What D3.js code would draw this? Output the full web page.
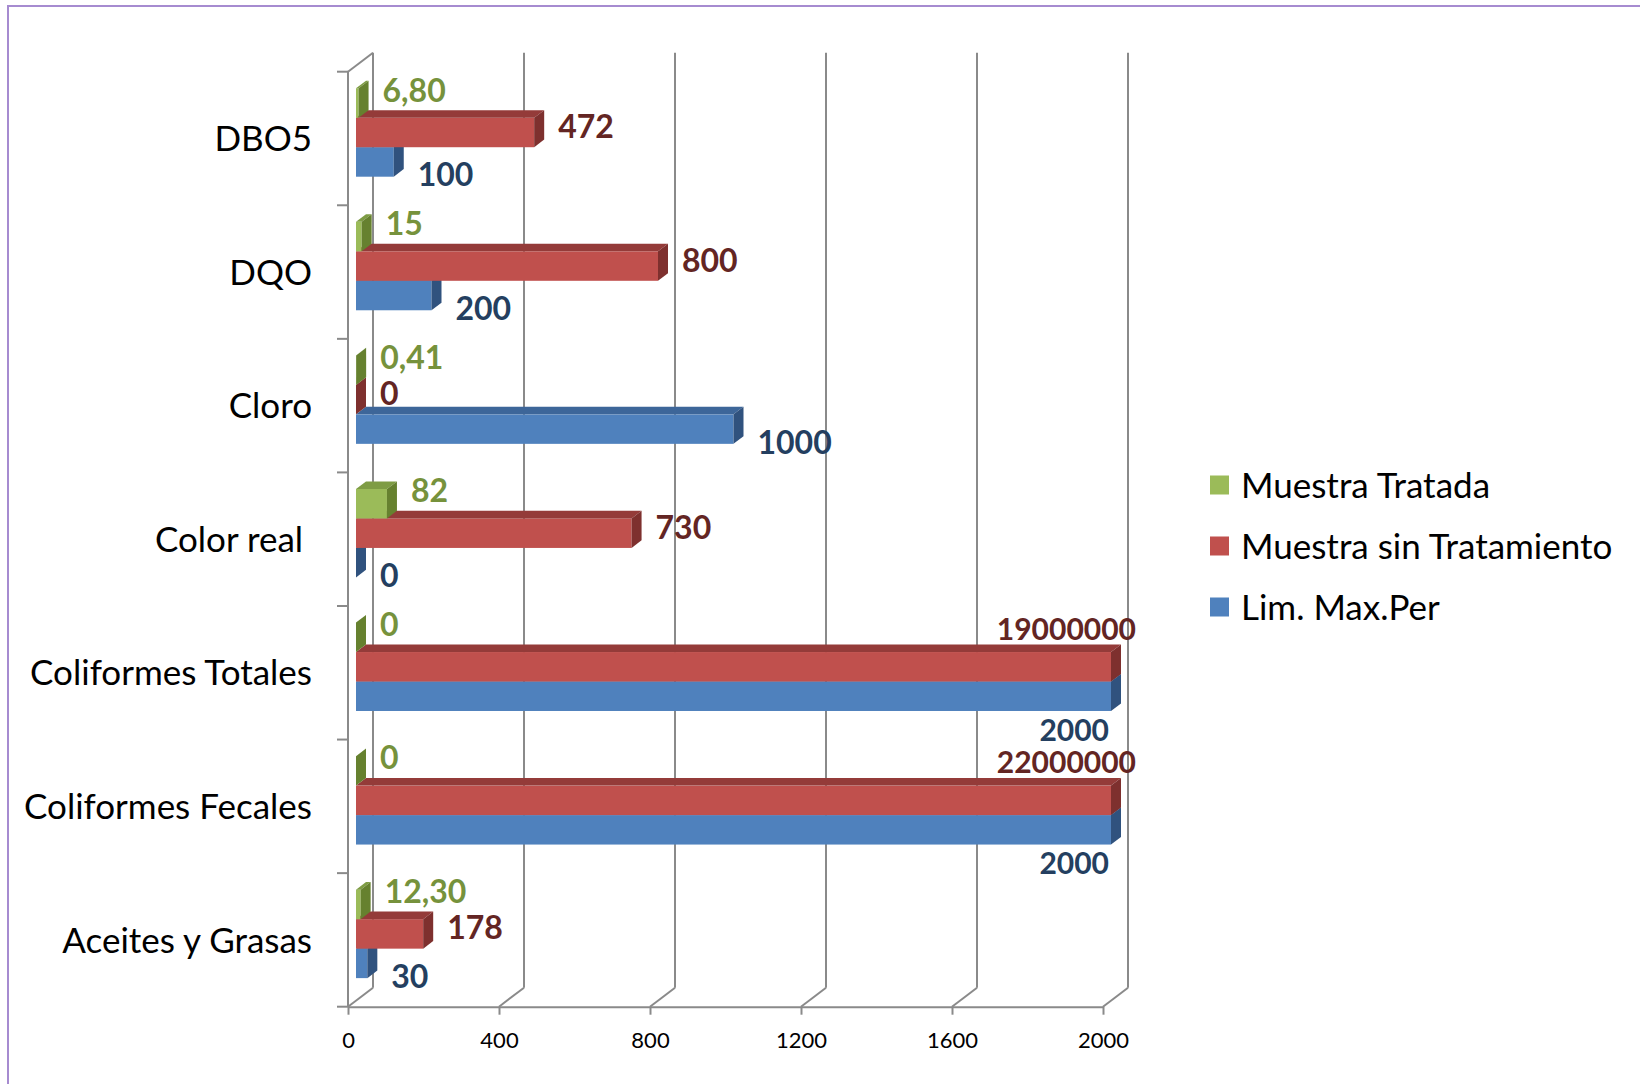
<!DOCTYPE html>
<html>
<head>
<meta charset="utf-8">
<script src="https://cdn.jsdelivr.net/npm/d3@7"></script>
<style>
  body { margin: 0; background: #fff; }
  svg { display: block; font-family: Lato, "Open Sans", sans-serif; }
</style>
</head>
<body>
<svg id="chart" width="1640" height="1084"></svg>
<script>
// data
var categories = ["DBO5", "DQO", "Cloro", "Color real ", "Coliformes Totales", "Coliformes Fecales", "Aceites y Grasas"];
var seriesNames = ["Muestra Tratada", "Muestra sin Tratamiento", "Lim. Max.Per"];
var muestraTratada = [6.8, 15, 0.41, 82, 0, 0, 12.3];
var muestraSinTratamiento = [472, 800, 0, 730, 19000000, 22000000, 178];
var limMaxPer = [100, 200, 1000, 0, 2000, 2000, 30];
var xTicks = [0, 400, 800, 1200, 1600, 2000];

var seriesValues = [muestraTratada, muestraSinTratamiento, limMaxPer];

// front, top, side, label colours for each series
var palette = [
    { front: "#9BBB59", top: "#7E9C44", side: "#66812F", label: "#76923C" },
    { front: "#C0504D", top: "#943B39", side: "#7E302E", label: "#632523" },
    { front: "#4F81BD", top: "#3D6699", side: "#30527E", label: "#243F60" }
];

var svg = d3.select("#chart");

var plot = { left: 348, right: 1103, top: 71.7, bottom: 1006.7 };
var wall = { dx: 25, dy: -19 };     // depth of floor / side wall
var barShift = { dx: 8, dy: -6 };   // front face of bars sits a little back
var barDepth = { dx: 10, dy: -7.6 };

var x = d3.scaleLinear().domain([0, 2000]).range([plot.left, plot.right]).clamp(true);
var y = d3.scaleBand().domain(categories).range([plot.top, plot.bottom])
    .paddingInner(0.338).paddingOuter(0.169);
var ys = d3.scaleBand().domain(d3.range(seriesNames.length)).range([0, y.bandwidth()]);

// outer frame
svg.append("rect")
    .attr("x", 8).attr("y", 6).attr("width", 1700).attr("height", 1200)
    .attr("fill", "none").attr("stroke", "#A68BD0").attr("stroke-width", 2);

var gridColor = "#8A8A8A";

// back wall gridlines + floor diagonals
var grid = svg.append("g").attr("class", "grid");
grid.selectAll("line.back")
    .data(xTicks)
    .enter().append("line")
    .attr("class", "back")
    .attr("x1", function (d) { return x(d) + wall.dx; })
    .attr("x2", function (d) { return x(d) + wall.dx; })
    .attr("y1", plot.top + wall.dy)
    .attr("y2", plot.bottom + wall.dy)
    .attr("stroke", gridColor).attr("stroke-width", 2);
grid.selectAll("line.floor")
    .data(xTicks)
    .enter().append("line")
    .attr("class", "floor")
    .attr("x1", function (d) { return x(d); })
    .attr("x2", function (d) { return x(d) + wall.dx; })
    .attr("y1", plot.bottom)
    .attr("y2", plot.bottom + wall.dy)
    .attr("stroke", gridColor).attr("stroke-width", 2);

// side wall front edge and top edge
grid.append("line")
    .attr("x1", plot.left).attr("x2", plot.left)
    .attr("y1", plot.top).attr("y2", plot.bottom)
    .attr("stroke", gridColor).attr("stroke-width", 2);
grid.append("line")
    .attr("x1", plot.left).attr("x2", plot.left + wall.dx)
    .attr("y1", plot.top).attr("y2", plot.top + wall.dy)
    .attr("stroke", gridColor).attr("stroke-width", 2);

// category tick marks at band boundaries
var boundaries = d3.range(categories.length + 1).map(function (i) { return plot.top + i * y.step(); });
grid.selectAll("line.ytick")
    .data(boundaries)
    .enter().append("line")
    .attr("class", "ytick")
    .attr("x1", plot.left - 11).attr("x2", plot.left)
    .attr("y1", function (d) { return d; }).attr("y2", function (d) { return d; })
    .attr("stroke", gridColor).attr("stroke-width", 2);

// bottom axis
var xAxis = d3.axisBottom(x).tickValues(xTicks).tickSize(8).tickSizeOuter(0)
    .tickFormat(d3.format("d"));
var axisG = svg.append("g")
    .attr("transform", "translate(0," + plot.bottom + ")")
    .call(xAxis);
axisG.select(".domain").attr("stroke", gridColor).attr("stroke-width", 2);
axisG.selectAll(".tick line").attr("stroke", gridColor).attr("stroke-width", 2);
axisG.selectAll(".tick text")
    .attr("y", 34).attr("dy", "0.35em")
    .attr("fill", "#000")
    .style("font-family", "Lato, sans-serif")
    .style("font-size", "22px");

// flatten bars: draw series bottom-up inside each group so upper bars cover tops below
var bars = [];
categories.forEach(function (c, i) {
    for (var s = seriesNames.length - 1; s >= 0; s--) {
        bars.push({ cat: c, s: s, value: seriesValues[s][i] });
    }
});

function geom(d) {
    var x0 = x(0) + barShift.dx;
    var x1 = x(d.value) + barShift.dx;
    var y0 = y(d.cat) + ys(d.s) + barShift.dy;
    var h = ys.bandwidth();
    return { x0: x0, x1: x1, y0: y0, h: h };
}

function pts(arr) { return arr.map(function (p) { return p.join(","); }).join(" "); }

var barG = svg.append("g").attr("class", "bars")
    .selectAll("g")
    .data(bars)
    .enter().append("g");

barG.append("rect")
    .attr("x", function (d) { return geom(d).x0; })
    .attr("y", function (d) { return geom(d).y0; })
    .attr("width", function (d) { var g = geom(d); return g.x1 - g.x0; })
    .attr("height", function (d) { return geom(d).h; })
    .attr("fill", function (d) { return palette[d.s].front; });

barG.append("polygon")
    .attr("points", function (d) {
        var g = geom(d);
        return pts([[g.x0, g.y0], [g.x1, g.y0], [g.x1 + barDepth.dx, g.y0 + barDepth.dy], [g.x0 + barDepth.dx, g.y0 + barDepth.dy]]);
    })
    .attr("fill", function (d) { return palette[d.s].top; });

barG.append("polygon")
    .attr("points", function (d) {
        var g = geom(d);
        return pts([[g.x1, g.y0], [g.x1 + barDepth.dx, g.y0 + barDepth.dy],
            [g.x1 + barDepth.dx, g.y0 + g.h + barDepth.dy], [g.x1, g.y0 + g.h]]);
    })
    .attr("fill", function (d) { return palette[d.s].side; });

// data labels
function fmt(v) {
    return Number.isInteger(v) ? String(v) : v.toFixed(2).replace(".", ",");
}
var labelDy = [-13, -6, 13];
var maxVal = x.domain()[1];

svg.append("g").attr("class", "labels")
    .selectAll("text")
    .data(bars)
    .enter().append("text")
    .text(function (d) { return fmt(d.value); })
    .attr("x", function (d) {
        var g = geom(d);
        if (d.value >= maxVal) {
            return d.s === 1 ? g.x1 + barDepth.dx + 15 : g.x1 - 2;
        }
        return g.x1 + barDepth.dx + 14;
    })
    .attr("y", function (d) {
        var g = geom(d);
        if (d.value >= maxVal) {
            return d.s === 1 ? g.y0 - 23 : g.y0 + g.h + 19;
        }
        return g.y0 + g.h / 2 + labelDy[d.s];
    })
    .attr("dy", "0.36em")
    .attr("text-anchor", function (d) { return d.value >= maxVal ? "end" : "start"; })
    .attr("fill", function (d) { return palette[d.s].label; })
    .style("font-weight", "bold")
    .style("font-size", function (d) { return d.value >= maxVal ? "30px" : "32px"; });

// category labels
svg.append("g").attr("class", "cats")
    .selectAll("text")
    .data(categories)
    .enter().append("text")
    .text(function (d) { return d; })
    .attr("x", 312)
    .attr("y", function (d) { return y(d) + y.bandwidth() / 2; })
    .attr("dy", "0.36em")
    .attr("text-anchor", "end")
    .style("white-space", "pre")
    .style("font-size", "35px")
    .attr("fill", "#000");

// legend
var legend = svg.append("g").attr("class", "legend")
    .selectAll("g")
    .data(seriesNames)
    .enter().append("g")
    .attr("transform", function (d, i) { return "translate(1210," + (485 + i * 61) + ")"; });
legend.append("rect")
    .attr("x", 0).attr("y", -9.5).attr("width", 19).attr("height", 19)
    .attr("fill", function (d, i) { return palette[i].front; });
legend.append("text")
    .text(function (d) { return d; })
    .attr("x", 31).attr("dy", "0.36em")
    .style("font-size", "35px")
    .attr("fill", "#000");
</script>
</body>
</html>
